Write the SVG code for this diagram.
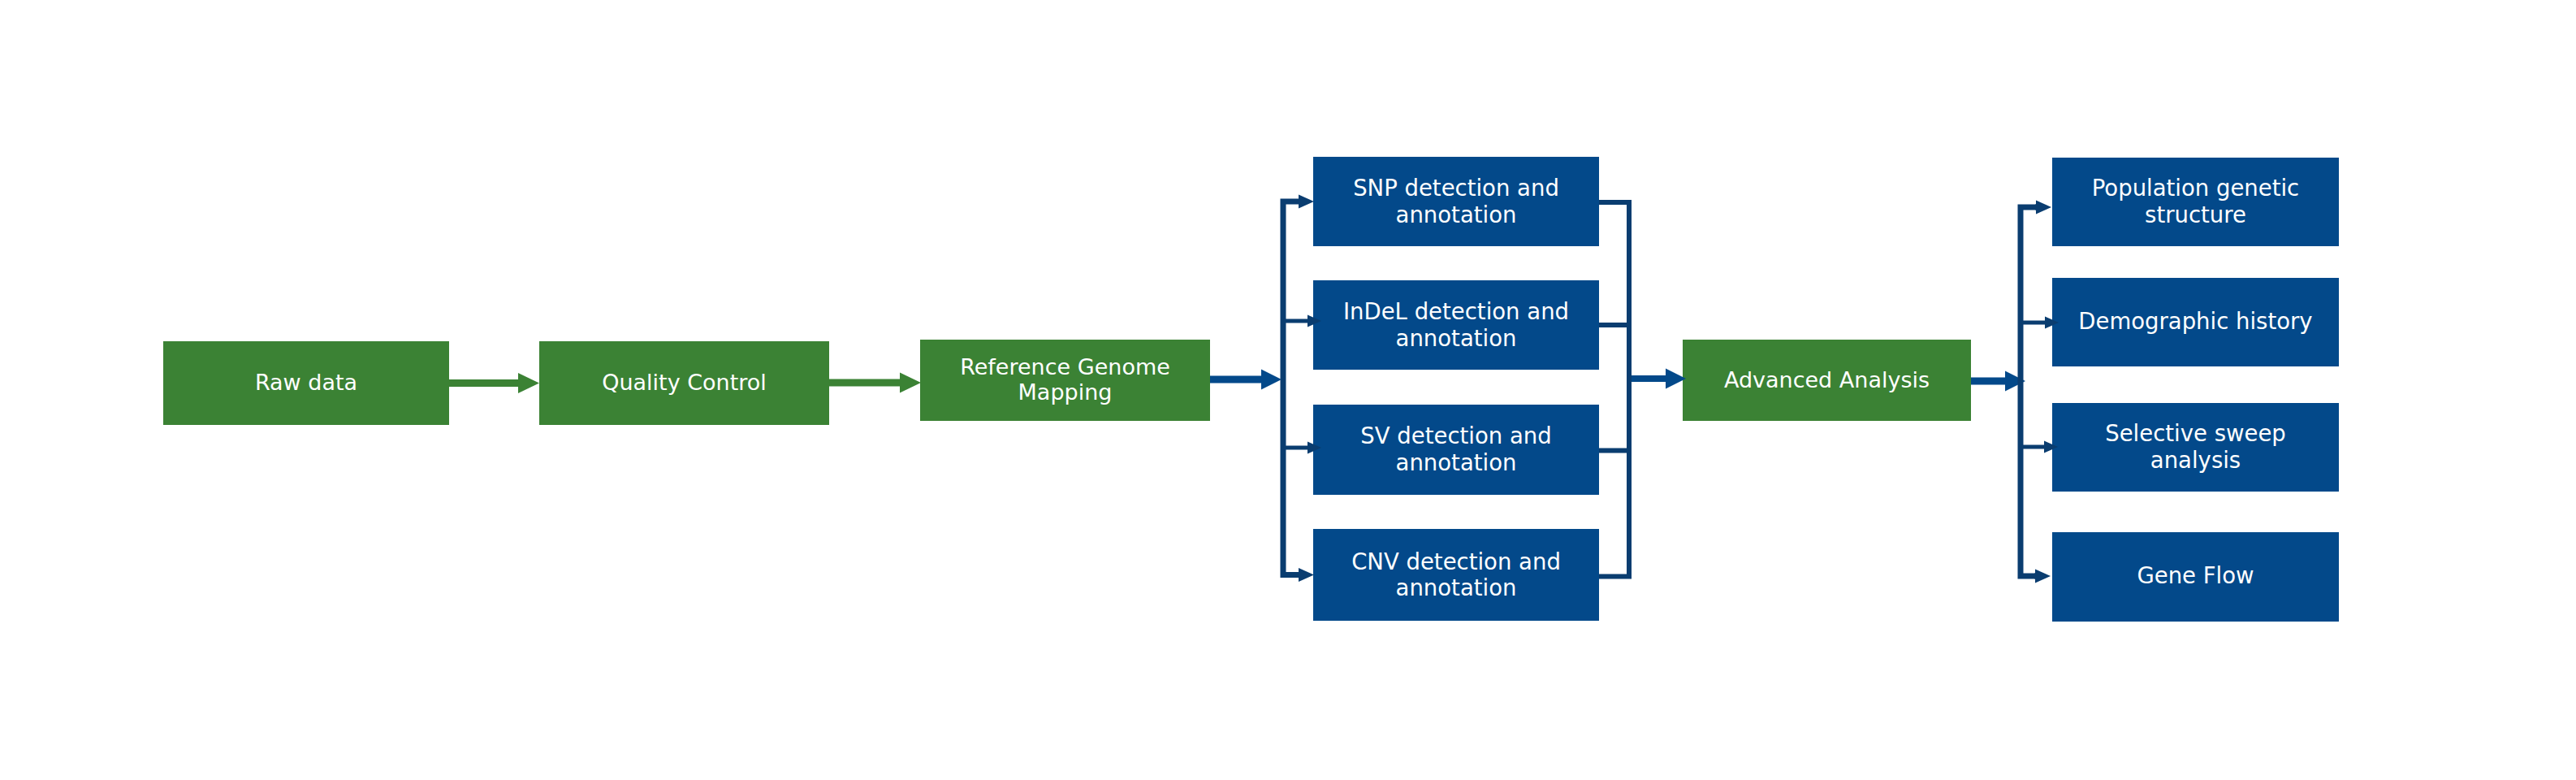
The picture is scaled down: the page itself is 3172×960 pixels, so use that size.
<svg xmlns="http://www.w3.org/2000/svg" width="3172" height="960" viewBox="0 0 3172 960">
<style>
.bg{fill:#ffffff}
.g{fill:#3b8234}
.b{fill:#03498a}
.t{font-family:"DejaVu Sans","Liberation Sans",sans-serif;fill:#ffffff;text-anchor:middle}
.tg{font-size:27px}
.tb{font-size:27.5px}
.cg{fill:none;stroke:#3b8234;stroke-width:9}
.cb{fill:none;stroke:#03498a;stroke-width:9}
.cn{fill:none;stroke:#0a3d70;stroke-width:7}
.cn2{fill:none;stroke:#0a3d70;stroke-width:5}
</style>
<defs>
<marker id="hg" markerUnits="userSpaceOnUse" viewBox="0 -13 27 26" markerWidth="27" markerHeight="26" refX="0" refY="0" orient="auto"><path d="M0,-12.5 L26,0 L0,12.5 Z" fill="#3b8234"/></marker>
<marker id="hb" markerUnits="userSpaceOnUse" viewBox="0 -13 27 26" markerWidth="27" markerHeight="26" refX="0" refY="0" orient="auto"><path d="M0,-12.5 L25,0 L0,12.5 Z" fill="#03498a"/></marker>
<marker id="hn" markerUnits="userSpaceOnUse" viewBox="0 -9 20 18" markerWidth="20" markerHeight="18" refX="0" refY="0" orient="auto"><path d="M0,-8.5 L19,0 L0,8.5 Z" fill="#0a3d70"/></marker>
<marker id="hs" markerUnits="userSpaceOnUse" viewBox="0 -9 20 18" markerWidth="20" markerHeight="18" refX="0" refY="0" orient="auto"><path d="M0,-7.5 L17,0 L0,7.5 Z" fill="#0a3d70"/></marker>
</defs>
<rect class="bg" x="0" y="0" width="3172" height="960"/>

<g id="raw-data"><rect class="g" x="201" y="420" width="352" height="103"/><text class="t tg" x="377" y="480">Raw data</text></g>
<g id="quality-control"><rect class="g" x="664" y="420" width="357" height="103"/><text class="t tg" x="842.5" y="480">Quality Control</text></g>
<g id="reference-genome-mapping"><rect class="g" x="1133" y="418" width="357" height="100"/><text class="t tg" x="1311.5" y="461">Reference Genome</text><text class="t tg" x="1311.5" y="492">Mapping</text></g>

<g id="snp"><rect class="b" x="1617" y="193" width="352" height="110"/><text class="t tb" x="1793" y="241">SNP detection and</text><text class="t tb" x="1793" y="274">annotation</text></g>
<g id="indel"><rect class="b" x="1617" y="345" width="352" height="110"/><text class="t tb" x="1793" y="392.5">InDeL detection and</text><text class="t tb" x="1793" y="425.5">annotation</text></g>
<g id="sv"><rect class="b" x="1617" y="498" width="352" height="111"/><text class="t tb" x="1793" y="546">SV detection and</text><text class="t tb" x="1793" y="579">annotation</text></g>
<g id="cnv"><rect class="b" x="1617" y="651" width="352" height="113"/><text class="t tb" x="1793" y="700.5">CNV detection and</text><text class="t tb" x="1793" y="733">annotation</text></g>

<g id="advanced-analysis"><rect class="g" x="2072" y="418" width="355" height="100"/><text class="t tg" x="2249.5" y="477">Advanced Analysis</text></g>

<g id="population-genetic-structure"><rect class="b" x="2527" y="194" width="353" height="109"/><text class="t tb" x="2703.5" y="241">Population genetic</text><text class="t tb" x="2703.5" y="274">structure</text></g>
<g id="demographic-history"><rect class="b" x="2527" y="342" width="353" height="109"/><text class="t tb" x="2703.5" y="405">Demographic history</text></g>
<g id="selective-sweep"><rect class="b" x="2527" y="496" width="353" height="109"/><text class="t tb" x="2703.5" y="543">Selective sweep</text><text class="t tb" x="2703.5" y="576">analysis</text></g>
<g id="gene-flow"><rect class="b" x="2527" y="655" width="353" height="110"/><text class="t tb" x="2703.5" y="718">Gene Flow</text></g>

<g id="connectors">
<path class="cg" d="M553,471.5 H638" marker-end="url(#hg)"/>
<path class="cg" d="M1021,471 H1108" marker-end="url(#hg)"/>
<path class="cb" d="M1490,467 H1553" marker-end="url(#hb)"/>
<path class="cn" d="M1598,248 H1580 V707.5 H1598"/>
<path d="M1598,248 H1599" class="cn" marker-end="url(#hn)"/>
<path d="M1598,707.5 H1599" class="cn" marker-end="url(#hn)"/>
<path class="cn2" d="M1580,395 H1610" marker-end="url(#hs)"/>
<path class="cn2" d="M1580,551 H1610" marker-end="url(#hs)"/>
<path class="cn" style="stroke-width:6" d="M1969,249 H2006 V709.5 H1969 M1969,400 H2006 M1969,554.5 H2006"/>
<path class="cb" style="stroke-width:8" d="M2009,466 H2051" marker-end="url(#hb)"/>
<path class="cb" d="M2427,469 H2469" marker-end="url(#hb)"/>
<path class="cn" d="M2507,255 H2488 V709 H2506"/>
<path d="M2506,255 H2507" class="cn" marker-end="url(#hn)"/>
<path d="M2505,709 H2506" class="cn" marker-end="url(#hn)"/>
<path class="cn2" d="M2488,397 H2518" marker-end="url(#hs)"/>
<path class="cn2" d="M2488,550 H2517" marker-end="url(#hs)"/>
</g>
</svg>
